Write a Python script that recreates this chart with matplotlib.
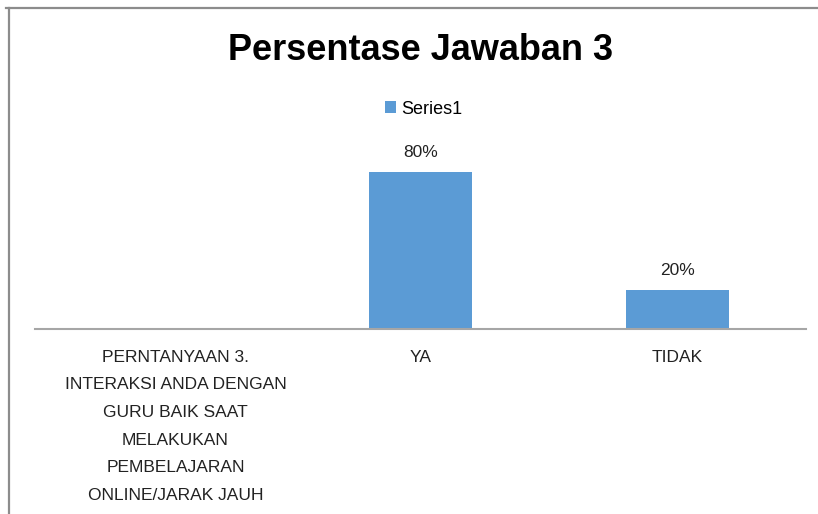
import numpy as np
import matplotlib.pyplot as plt
from matplotlib.lines import Line2D
from matplotlib.transforms import ScaledTranslation

categories = ["PERNTANYAAN 3.\nINTERAKSI ANDA DENGAN\nGURU BAIK SAAT\nMELAKUKAN\nPEMBELAJARAN\nONLINE/JARAK JAUH",
              "YA", "TIDAK"]
values = [np.nan, 0.80, 0.20]
labels = ["", "80%", "20%"]

W, H = 818, 514
fig = plt.figure(figsize=(W / 100, H / 100), dpi=100)
plt.rcParams['font.family'] = ['Liberation Sans', 'DejaVu Sans']

# outer chart frame (only top and left edges visible)
fig.add_artist(Line2D([6 / W, 1.0], [1 - 8 / H, 1 - 8 / H], color='#8c8c8c', lw=1.6, transform=fig.transFigure))
fig.add_artist(Line2D([9 / W, 9 / W], [0, 1 - 8 / H], color='#8c8c8c', lw=1.6, transform=fig.transFigure))

ax = fig.add_axes([35 / W, 1 - 329 / H, (806 - 35) / W, 196 / H])
x = np.arange(len(categories))
bars = ax.bar(x, values, width=0.40, color='#5b9bd5', label='Series1')
for xi, v, lab in zip(x, values, labels):
    if lab:
        ax.text(xi, v + 0.06, lab, ha='center', va='bottom', fontsize=12.5, color='#222222')

ax.set_xlim(-0.5, len(categories) - 0.5)
ax.set_ylim(0, 1.0)
ax.set_yticks([])
ax.set_xticks(x)
ax.set_xticklabels(categories, fontsize=12.5, color='#222222', linespacing=2.05, va='top')
ax.tick_params(axis='x', length=0, pad=15)
# long label sits a little right of its category centre
first = ax.get_xticklabels()[0]
first.set_transform(first.get_transform() + ScaledTranslation(0.12, 0, fig.dpi_scale_trans))
for s in ['top', 'right', 'left']:
    ax.spines[s].set_visible(False)
ax.spines['bottom'].set_color('#a6a6a6')
ax.spines['bottom'].set_linewidth(1.5)

fig.text(420 / W, 1 - 50 / H, "Persentase Jawaban 3", ha='center', va='center',
         fontsize=26, fontweight='bold', color='black')
fig.legend(handles=[bars], labels=['Series1'], loc='center', bbox_to_anchor=(424 / W, 1 - 109 / H),
           frameon=False, fontsize=13, handlelength=0.6, handleheight=0.6, handletextpad=0.3)

fig.savefig('out.png', dpi=100)
